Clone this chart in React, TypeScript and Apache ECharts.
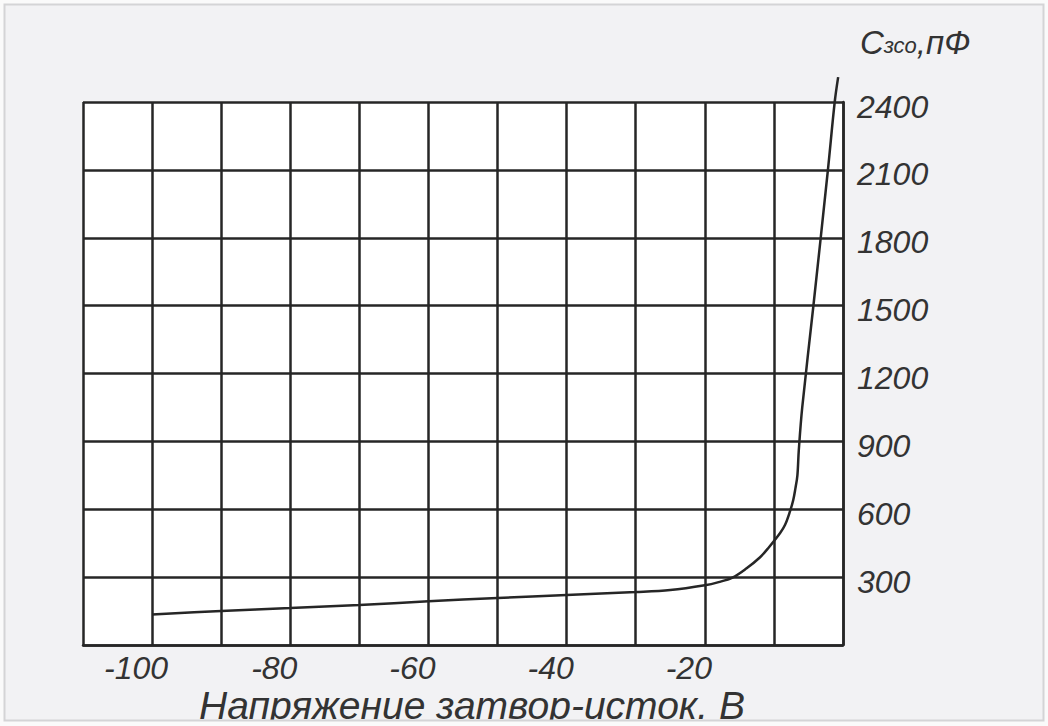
import React, { useEffect, useRef } from "react";
import * as echarts from "echarts";

const voltage = [-100, -90, -80, -70, -60, -50, -40, -30, -25, -20, -18, -16, -14, -12, -10.8, -9.1, -8.4, -7.7, -7.2, -6.9, -6.6, -6.4, -5.9, -4.3, -2.2, -1.2, -0.7];
const capacitance = [135, 150, 163, 177, 193, 208, 221, 234, 243, 264, 278, 298, 338, 388, 429, 495, 530, 588, 641, 690, 750, 860, 1050, 1495, 2095, 2400, 2510];
const xTickLabels = [-100, -80, -60, -40, -20];
const yTickLabels = [300, 600, 900, 1200, 1500, 1800, 2100, 2400];
const xTitle = "Напряжение затвор-исток. В";
const yTitleMain = "С";
const yTitleSub = "зсо";
const yTitleUnit = ",пФ";

const FONT = "'Liberation Sans', Arial, sans-serif";
const LINE = "#262626";
const TEXT = "#333333";
const PAGE = "#f2f2f4";

export default function App() {
  const ref = useRef<HTMLDivElement>(null);
  useEffect(() => {
    if (!ref.current) return;
    const chart = echarts.init(ref.current, undefined, { renderer: "svg" });
    const lineStyle = { color: LINE, width: 2.5 };
    chart.setOption({
      animation: false,
      backgroundColor: PAGE,
      grid: {
        left: 83,
        right: 205,
        top: 102,
        bottom: 81,
        show: true,
        backgroundColor: "#ffffff",
        borderWidth: 0,
      },
      xAxis: {
        type: "value",
        min: -110,
        max: 0,
        interval: 10,
        axisLine: { show: true, lineStyle },
        axisTick: { show: false },
        splitLine: { show: true, lineStyle },
        axisLabel: {
          show: true,
          margin: 9,
          color: TEXT,
          fontFamily: FONT,
          fontStyle: "italic",
          fontSize: 32,
          lineHeight: 28,
          padding: [0, 32, 0, 0],
          formatter: (v: number) => (xTickLabels.includes(v) ? String(v) : ""),
        },
      },
      yAxis: {
        type: "value",
        position: "right",
        min: 0,
        max: 2400,
        interval: 300,
        axisLine: { show: true, lineStyle },
        axisTick: { show: false },
        splitLine: { show: true, lineStyle },
        axisLabel: {
          show: true,
          margin: 14,
          color: TEXT,
          fontFamily: FONT,
          fontStyle: "italic",
          fontSize: 32,
          verticalAlign: "top",
          lineHeight: 9,
          formatter: (v: number) => (yTickLabels.includes(v) ? String(v) : ""),
        },
      },
      series: [
        {
          type: "line",
          data: voltage.map((v, i) => [v, capacitance[i]]),
          showSymbol: false,
          symbol: "none",
          smooth: 0.35,
          clip: false,
          lineStyle: { color: LINE, width: 2.5 },
          z: 5,
        },
      ],
      graphic: [
        {
          type: "text",
          left: 860,
          top: 26,
          z: 10,
          style: {
            text: `{a|${yTitleMain}}{b|${yTitleSub}}{a|${yTitleUnit}}`,
            rich: {
              a: { fontSize: 33, fontStyle: "italic", fontFamily: FONT, fill: TEXT, verticalAlign: "bottom", lineHeight: 36 },
              b: { fontSize: 22, fontStyle: "italic", fontFamily: FONT, fill: TEXT, verticalAlign: "bottom", lineHeight: 36, padding: [0, 0, 3, 0] },
            },
          },
        },
        {
          type: "text",
          x: 472,
          y: 723,
          z: 10,
          style: {
            text: xTitle,
            fontSize: 39,
            lineHeight: 36,
            fontStyle: "italic",
            fontFamily: FONT,
            fill: TEXT,
            align: "center",
            verticalAlign: "bottom",
          },
        },
        { type: "rect", z: 100, shape: { x: 0, y: 721, width: 1048, height: 5 }, style: { fill: "#fafafa" } },
        { type: "rect", z: 100, shape: { x: 0, y: 0, width: 1048, height: 4 }, style: { fill: "#fafafa" } },
        { type: "rect", z: 100, shape: { x: 0, y: 0, width: 4, height: 726 }, style: { fill: "#fafafa" } },
        { type: "rect", z: 100, shape: { x: 1044, y: 0, width: 4, height: 726 }, style: { fill: "#fafafa" } },
        {
          type: "rect",
          z: 101,
          shape: { x: 4.5, y: 4.5, width: 1039, height: 716 },
          style: { fill: "none", stroke: "#d4d4d6", lineWidth: 2 },
        },
      ],
    });
    return () => chart.dispose();
  }, []);
  return (
    <div
      ref={ref}
      style={{ position: "absolute", left: 0, top: 0, width: 1048, height: 726 }}
    />
  );
}
